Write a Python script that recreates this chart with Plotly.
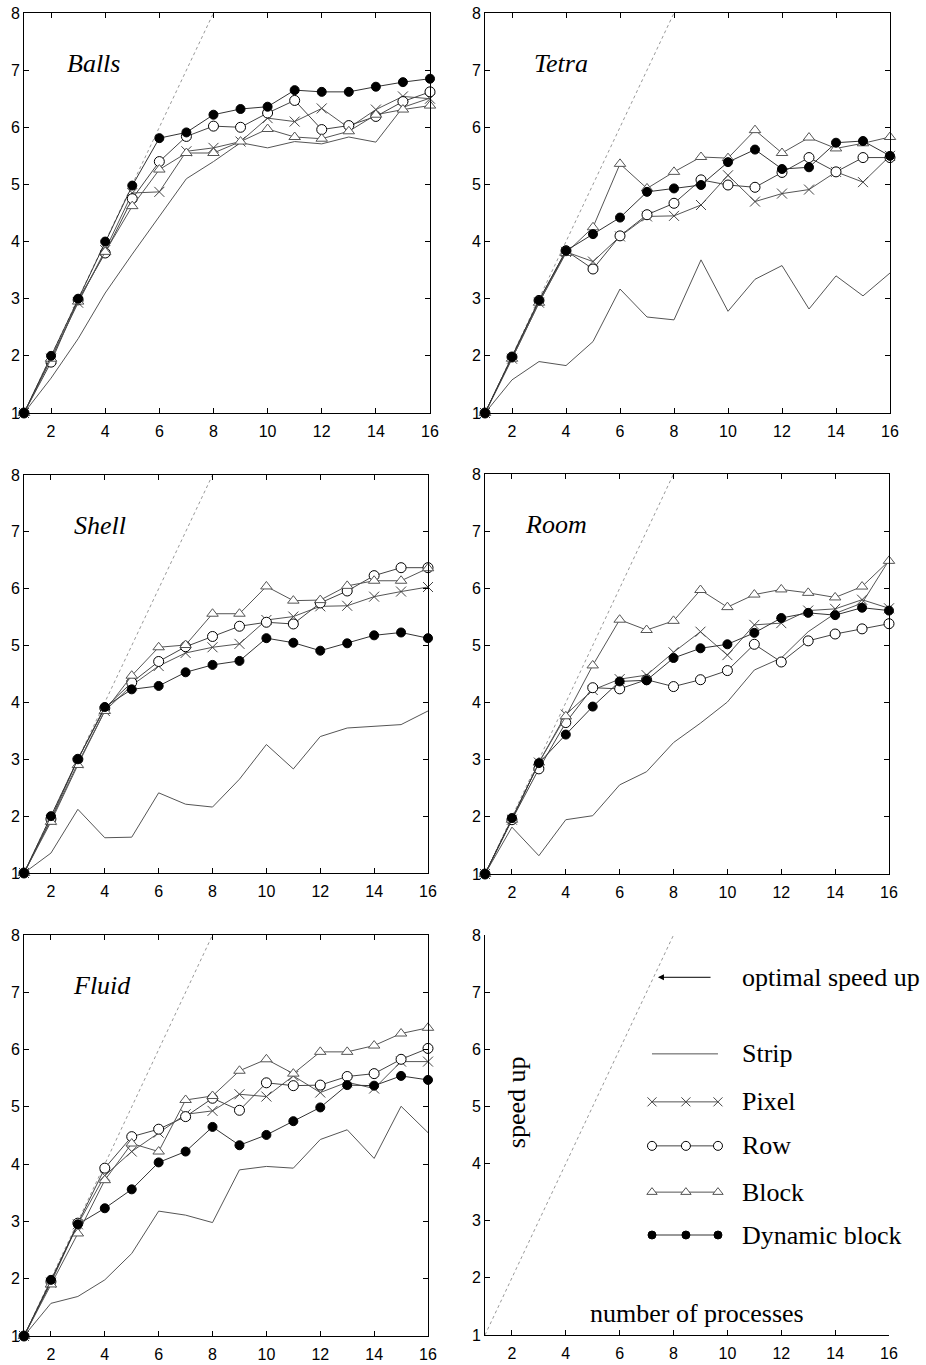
import plotly.graph_objects as go

procs = list(range(1, 17))
optimal_x = [1, 8]
optimal_y = [1, 8]

balls_strip = [1, 1.61, 2.3, 3.1, 3.78, 4.44, 5.1, 5.4, 5.73, 5.64, 5.75, 5.71, 5.83, 5.74, 6.35, 6.51]
balls_pixel = [1, 1.95, 2.93, 3.85, 4.85, 4.87, 5.58, 5.64, 5.75, 6.16, 6.10, 6.33, 5.99, 6.31, 6.54, 6.50]
balls_row = [1, 1.89, 2.98, 3.80, 4.75, 5.40, 5.84, 6.02, 6.00, 6.25, 6.47, 5.96, 6.03, 6.19, 6.45, 6.62]
balls_block = [1, 1.95, 2.95, 3.82, 4.62, 5.26, 5.55, 5.55, 5.75, 5.97, 5.83, 5.80, 5.93, 6.22, 6.31, 6.38]
balls_dynamic = [1, 2.0, 3.0, 4.0, 4.98, 5.81, 5.91, 6.22, 6.32, 6.36, 6.65, 6.62, 6.62, 6.71, 6.79, 6.85]

tetra_strip = [1, 1.58, 1.90, 1.83, 2.25, 3.17, 2.68, 2.63, 3.68, 2.78, 3.34, 3.58, 2.82, 3.40, 3.05, 3.45]
tetra_pixel = [1, 1.95, 2.93, 3.82, 3.65, 4.09, 4.44, 4.45, 4.64, 5.16, 4.70, 4.84, 4.91, 5.22, 5.04, 5.50]
tetra_row = [1, 1.98, 2.97, 3.84, 3.52, 4.10, 4.47, 4.67, 5.08, 4.99, 4.95, 5.21, 5.47, 5.22, 5.47, 5.47]
tetra_block = [1, 1.95, 2.93, 3.80, 4.25, 5.36, 4.93, 5.22, 5.48, 5.46, 5.95, 5.55, 5.82, 5.63, 5.72, 5.83]
tetra_dynamic = [1, 1.98, 2.97, 3.84, 4.13, 4.42, 4.87, 4.93, 4.99, 5.39, 5.61, 5.27, 5.30, 5.73, 5.76, 5.50]

shell_strip = [1, 1.35, 2.12, 1.62, 1.63, 2.41, 2.21, 2.16, 2.65, 3.26, 2.83, 3.40, 3.55, 3.58, 3.61, 3.85]
shell_pixel = [1, 1.93, 2.93, 3.85, 4.30, 4.64, 4.87, 4.97, 5.03, 5.45, 5.51, 5.69, 5.70, 5.86, 5.95, 6.03]
shell_row = [1, 1.95, 3.0, 3.90, 4.35, 4.72, 4.98, 5.16, 5.34, 5.41, 5.38, 5.75, 5.96, 6.23, 6.37, 6.37]
shell_block = [1, 1.90, 2.90, 3.85, 4.47, 4.97, 5.01, 5.56, 5.56, 6.04, 5.79, 5.80, 6.05, 6.14, 6.14, 6.36]
shell_dynamic = [1, 2.0, 3.0, 3.92, 4.23, 4.29, 4.53, 4.66, 4.73, 5.13, 5.05, 4.91, 5.04, 5.18, 5.23, 5.13]

room_strip = [1, 1.82, 1.32, 1.95, 2.02, 2.56, 2.79, 3.30, 3.64, 4.01, 4.57, 4.78, 5.24, 5.56, 5.74, 6.49]
room_pixel = [1, 1.95, 2.95, 3.79, 4.22, 4.41, 4.48, 4.88, 5.24, 4.83, 5.36, 5.39, 5.61, 5.64, 5.80, 5.65]
room_row = [1, 1.95, 2.84, 3.65, 4.26, 4.24, 4.40, 4.28, 4.40, 4.56, 5.02, 4.71, 5.08, 5.20, 5.29, 5.38]
room_block = [1, 1.95, 2.95, 3.76, 4.65, 5.45, 5.27, 5.43, 5.97, 5.67, 5.89, 5.98, 5.92, 5.84, 6.03, 6.48]
room_dynamic = [1, 1.98, 2.94, 3.44, 3.93, 4.37, 4.39, 4.78, 4.95, 5.02, 5.22, 5.48, 5.57, 5.53, 5.66, 5.61]

fluid_strip = [1, 1.57, 1.69, 1.98, 2.44, 3.18, 3.11, 2.98, 3.90, 3.96, 3.93, 4.43, 4.60, 4.10, 5.01, 4.55]
fluid_pixel = [1, 1.93, 2.95, 3.80, 4.22, 4.55, 4.87, 4.93, 5.22, 5.18, 5.54, 5.25, 5.43, 5.32, 5.79, 5.79]
fluid_row = [1, 1.95, 2.97, 3.93, 4.48, 4.61, 4.83, 5.15, 4.94, 5.42, 5.37, 5.38, 5.53, 5.58, 5.83, 6.02]
fluid_block = [1, 1.90, 2.79, 3.72, 4.36, 4.22, 5.12, 5.19, 5.63, 5.83, 5.58, 5.96, 5.96, 6.07, 6.28, 6.38]
fluid_dynamic = [1, 1.98, 2.95, 3.23, 3.56, 4.03, 4.22, 4.65, 4.33, 4.51, 4.75, 4.99, 5.38, 5.37, 5.54, 5.47]

panel_names = ["Balls", "Tetra", "Shell", "Room", "Fluid"]
series_names = ["Strip", "Pixel", "Row", "Block", "Dynamic block"]
panel_data = [
    [balls_strip, balls_pixel, balls_row, balls_block, balls_dynamic],
    [tetra_strip, tetra_pixel, tetra_row, tetra_block, tetra_dynamic],
    [shell_strip, shell_pixel, shell_row, shell_block, shell_dynamic],
    [room_strip, room_pixel, room_row, room_block, room_dynamic],
    [fluid_strip, fluid_pixel, fluid_row, fluid_block, fluid_dynamic],
]
y_ticks = [1, 2, 3, 4, 5, 6, 7, 8]
x_ticks = [2, 4, 6, 8, 10, 12, 14, 16]

W, H = 926, 1365
# pixel boxes of the six plot areas: (left, right, top, bottom)
boxes = [
    (24, 430, 13, 413),
    (485, 890, 13, 413),
    (24, 428, 475, 873),
    (485, 889, 474, 874),
    (24, 428, 935, 1336),
    (485, 889, 935, 1335),
]

styles = [
    dict(mode="lines", line=dict(color="#555555", width=1)),
    dict(mode="lines+markers", line=dict(color="#555555", width=1),
         marker=dict(symbol="x-thin-open", size=10, color="#444444", line=dict(color="#444444", width=1))),
    dict(mode="lines+markers", line=dict(color="#444444", width=1),
         marker=dict(symbol="circle", size=10, color="white", line=dict(color="black", width=1))),
    dict(mode="lines+markers", line=dict(color="#555555", width=1),
         marker=dict(symbol="triangle-up", size=10, color="white", line=dict(color="#555555", width=1))),
    dict(mode="lines+markers", line=dict(color="#333333", width=1),
         marker=dict(symbol="circle", size=9, color="black", line=dict(color="black", width=1))),
]

fig = go.Figure()
layout = dict(width=W, height=H, margin=dict(l=0, r=0, t=0, b=0, autoexpand=False),
              paper_bgcolor="white", plot_bgcolor="white", showlegend=False)

tick_font = dict(family="Liberation Sans, Arial", size=16, color="black")
for i, (l, r, t, b) in enumerate(boxes):
    n = i + 1
    xs = "" if n == 1 else str(n)
    box = n <= 5
    layout["xaxis" + xs] = dict(
        domain=[l / W, r / W], range=[1, 16], anchor="y" + xs,
        tickvals=x_ticks, ticks="inside", ticklen=5, tickcolor="black",
        showline=True, linecolor="black", linewidth=1, automargin=False,
        mirror="ticks" if box else False, showgrid=False, zeroline=False,
        tickfont=tick_font, ticklabelstandoff=4, fixedrange=True)
    layout["yaxis" + xs] = dict(
        domain=[1 - b / H, 1 - t / H], range=[1, 8], anchor="x" + xs,
        tickvals=y_ticks, ticks="inside", ticklen=5, tickcolor="black",
        showline=True, linecolor="black", linewidth=1, automargin=False,
        mirror="ticks" if box else False, showgrid=False, zeroline=False,
        tickfont=tick_font, fixedrange=True)
    # optimal speed-up line
    fig.add_trace(go.Scatter(x=optimal_x, y=optimal_y, mode="lines",
                             line=dict(color="#999999", width=1, dash="dot"),
                             xaxis="x" + xs, yaxis="y" + xs, cliponaxis=True,
                             hoverinfo="skip"))

title_pos = [2.5, 2.74, 2.78, 2.41, 2.75]
annotations = []
for i, data in enumerate(panel_data):
    n = i + 1
    xs = "" if n == 1 else str(n)
    for s, ys in enumerate(data):
        fig.add_trace(go.Scatter(x=procs, y=ys, name=series_names[s],
                                 xaxis="x" + xs, yaxis="y" + xs, cliponaxis=False,
                                 **styles[s]))
    annotations.append(dict(text=panel_names[i], x=title_pos[i], y=7.12,
                            xref="x" + xs, yref="y" + xs, xanchor="left", yanchor="middle",
                            showarrow=False,
                            font=dict(family="Liberation Serif, Times New Roman", size=26,
                                      color="black", style="italic")))

# legend panel (6)
leg_x = [7.2, 8.46, 9.65]
leg_y = [5.92, 5.08, 4.31, 3.50, 2.75]
serif = dict(family="Liberation Serif, Times New Roman", size=26, color="black")
for s in range(5):
    st = dict(styles[s])
    if "marker" in st:
        mk = dict(st["marker"])
        mk["size"] = mk["size"] - 1
        st["marker"] = mk
    fig.add_trace(go.Scatter(x=leg_x, y=[leg_y[s]] * 3, xaxis="x6", yaxis="y6",
                             cliponaxis=False, **st))
    annotations.append(dict(text=series_names[s], x=10.47, y=leg_y[s], xref="x6", yref="y6",
                            xanchor="left", yanchor="middle", showarrow=False, font=serif))

annotations.append(dict(text="optimal speed up", x=10.47, y=7.26, xref="x6", yref="y6",
                        xanchor="left", yanchor="middle", showarrow=False, font=serif))
annotations.append(dict(text="", x=7.42, y=7.26, ax=9.43, ay=7.26, xref="x6", yref="y6",
                        axref="x6", ayref="y6", showarrow=True, arrowhead=2, arrowsize=1.2,
                        arrowwidth=1, arrowcolor="black"))
annotations.append(dict(text="speed up", x=2.2, y=5.08, xref="x6", yref="y6",
                        xanchor="center", yanchor="middle", textangle=-90, showarrow=False,
                        font=serif))
annotations.append(dict(text="number of processes", x=8.87, y=1.38, xref="x6", yref="y6",
                        xanchor="center", yanchor="middle", showarrow=False, font=serif))

layout["annotations"] = annotations
fig.update_layout(**layout)
fig.write_html("out.html", config={"displayModeBar": False},
               post_script="document.body.style.margin='0';document.body.style.overflow='hidden';")
